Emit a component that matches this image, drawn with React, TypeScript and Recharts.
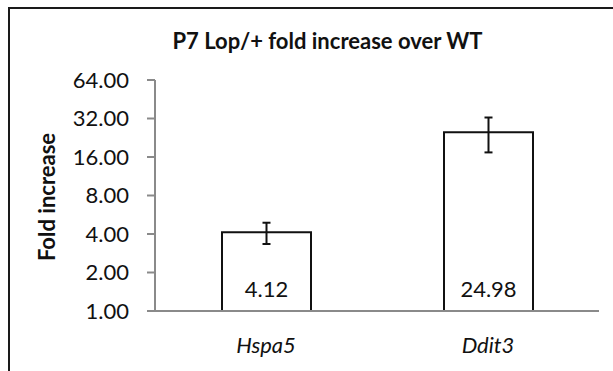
import { BarChart, Bar, XAxis, YAxis, ErrorBar, LabelList, Label } from "recharts"

const genes = ["Hspa5", "Ddit3"]
const foldValues = [4.12, 24.98]
const foldErrors = [0.78, 7.6]
const yTicks = [1, 2, 4, 8, 16, 32, 64]

const FONT = "Lato, 'Open Sans', sans-serif"

export default function App() {
  const data = genes.map((g, i) => ({ gene: g, value: foldValues[i], err: foldErrors[i] }))

  return (
    <div style={{ position: "absolute", left: 0, top: 0, width: 613, height: 371, background: "#fff", overflow: "hidden", fontFamily: FONT }}>
      {/* frame, cut off on the right and bottom like the source image */}
      <div style={{ position: "absolute", left: 8, top: 7, width: 700, height: 500, borderTop: "2px solid #1a1a1a", borderLeft: "2px solid #1a1a1a" }} />
      <div style={{ position: "absolute", left: 0, width: 655, top: 27, textAlign: "center", fontSize: 22, fontWeight: 700, color: "#111" }}>
        P7 Lop/+ fold increase over WT
      </div>
      <BarChart
        width={613}
        height={371}
        data={data}
        margin={{ top: 80, right: 14, bottom: 10, left: 55 }}
        style={{ position: "absolute", left: 0, top: 0 }}
      >
        <XAxis
          dataKey="gene"
          height={50}
          axisLine={{ stroke: "#8a8a8a", strokeWidth: 2 }}
          tickLine={false}
          tickSize={0}
          tickMargin={26}
          tick={{ fill: "#111", fontSize: 22, fontStyle: "italic", fontFamily: FONT }}
        />
        <YAxis
          type="number"
          scale="log"
          domain={[1, 64]}
          ticks={yTicks}
          allowDataOverflow
          width={100}
          axisLine={{ stroke: "#8a8a8a", strokeWidth: 2 }}
          tickLine={{ stroke: "#8a8a8a", strokeWidth: 2 }}
          tickSize={8}
          tickMargin={18}
          tickFormatter={(v: number) => v.toFixed(2)}
          tick={{ fill: "#111", fontSize: 22, fontFamily: FONT }}
        >
          <Label
            content={() => (
              <text
                x={46}
                y={197}
                transform="rotate(-90 46 197)"
                textAnchor="middle"
                dominantBaseline="central"
                fontSize={22}
                fontWeight={700}
                fontFamily={FONT}
                fill="#111"
              >
                Fold increase
              </text>
            )}
          />
        </YAxis>
        <Bar dataKey="value" fill="#fff" stroke="#111" strokeWidth={2} barSize={89} isAnimationActive={false}>
          <ErrorBar dataKey="err" width={4} stroke="#111" strokeWidth={2} />
          <LabelList
            dataKey="value"
            position="insideBottom"
            offset={14}
            formatter={(v: number) => v.toFixed(2)}
            fill="#111"
            fontSize={22}
            fontFamily={FONT}
          />
        </Bar>
      </BarChart>
    </div>
  )
}
